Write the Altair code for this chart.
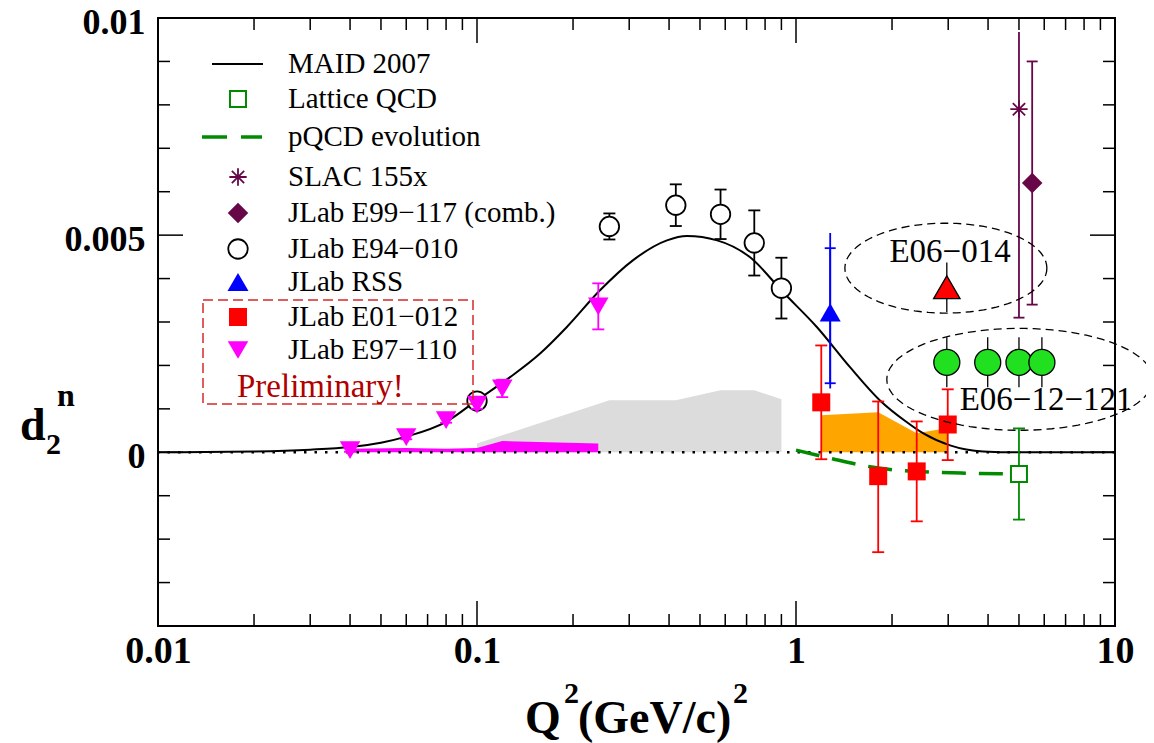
import math
import altair as alt
import pandas as pd

FONT = "Liberation Serif"
W, H = 957, 608

MAROON = "#670748"
GREEN4 = "#008b00"
ORANGE = "#ffa500"
GREY = "#dcdcdc"
MAGENTA = "#ff00ff"
RED = "#ff0000"
BLUE = "#0000ff"
LGREEN = "#20e020"
BOXRED = "#d42a2a"
PRELRED = "#b00000"

# ---------------- data ----------------
maid_x = [0.01, 0.02, 0.03, 0.04, 0.05, 0.06, 0.08, 0.10, 0.127, 0.158, 0.191, 0.243,
          0.308, 0.394, 0.455, 0.566, 0.718, 0.91, 1.164, 1.477, 1.83, 2.2, 2.5, 3.04,
          3.86, 5.0, 10.0]
maid_y = [0.0, 0.00002, 0.00006, 0.00012, 0.00022, 0.00036, 0.0007, 0.0012, 0.00173,
          0.00228, 0.00288, 0.00373, 0.00442, 0.00488, 0.00498, 0.00488, 0.00449,
          0.00369, 0.00288, 0.00196, 0.0012, 0.00072, 0.00044, 0.00016, 0.00002, 0.0, 0.0]

pqcd_x = [1.0, 1.3, 1.67, 2.0, 2.4, 3.4, 4.85]
pqcd_y = [0.00005, -0.00015, -0.00032, -0.0004, -0.00044, -0.00048, -0.0005]

e97_x = [0.04, 0.06, 0.08, 0.10, 0.12, 0.24]
e97_y = [0.00005, 0.00035, 0.00074, 0.0011, 0.00147, 0.00336]
e97_err = [0.00004, 0.00005, 0.00006, 0.0001, 0.0002, 0.00053]
e97_sys = [0.00008, 0.0001, 0.00008, 0.0001, 0.00026, 0.0002]

e94_x = [0.10, 0.26, 0.42, 0.58, 0.74, 0.90]
e94_y = [0.00118, 0.0052, 0.00569, 0.00548, 0.00482, 0.00378]
e94_err = [0.00005, 0.0003, 0.00048, 0.00057, 0.00075, 0.0007]
e94_sys = [0.0002, 0.0012, 0.0012, 0.00143, 0.00143, 0.00122]

rss_x = [1.28]
rss_y = [0.00322]
rss_stat_lo = [0.00159]
rss_stat_hi = [0.0047]
rss_tot_lo = [0.00147]
rss_tot_hi = [0.00505]

e01_x = [1.2, 1.81, 2.39, 2.99]
e01_y = [0.00115, -0.00055, -0.00044, 0.00064]
e01_lo = [-0.00016, -0.0023, -0.00159, -0.00018]
e01_hi = [0.00246, 0.00117, 0.00071, 0.00145]
e01_sys = [0.00085, 0.00092, 0.00044, 0.00056]

lat_x = [5.0]
lat_y = [-0.0005]
lat_lo = [-0.00155]
lat_hi = [0.00055]

slac_x = [5.0]
slac_y = [0.0079]
slac_lo = [0.0031]
slac_hi = [0.00968]

e99_x = [5.5]
e99_y = [0.0062]
e99_lo = [0.0034]
e99_hi = [0.0090]

e06014_x = [2.97]
e06014_y = [0.0038]
e06014_lo = [0.00323]
e06014_hi = [0.00437]

e0612_x = [2.97, 3.99, 5.0, 5.9]
e0612_y = [0.00207, 0.00207, 0.00207, 0.00207]
e0612_lo = [0.0015, 0.0015, 0.0015, 0.0015]
e0612_hi = [0.00265, 0.00265, 0.00265, 0.00265]

ell_x = [2.95, 5.03]
ell_y = [0.00424, 0.00168]

ann_text = ["E06\u2212014", "E06\u221212\u2212121"]
ann_x = [3.04, 6.08]
ann_y = [0.00438, 0.00097]

x_major = [0.1, 1.0]
x_minor = [0.02, 0.03, 0.04, 0.05, 0.06, 0.07, 0.08, 0.09,
           0.2, 0.3, 0.4, 0.5, 0.6, 0.7, 0.8, 0.9,
           2, 3, 4, 5, 6, 7, 8, 9]
y_major = [0.0, 0.005]
y_minor = [-0.003, -0.002, -0.001, 0.001, 0.002, 0.003, 0.004,
           0.006, 0.007, 0.008, 0.009]
x_labels = [0.01, 0.1, 1, 10]
y_labels = [0, 0.005, 0.01]

# ---------------- scales / axes ----------------
XS = alt.Scale(type="log", domain=[0.01, 10], nice=False)
YS = alt.Scale(type="linear", domain=[-0.004, 0.01], nice=False, zero=False)
XA = alt.Axis(values=x_labels, format="~g", ticks=False, domain=False, grid=False,
              title=None, labelFont=FONT, labelFontWeight="bold", labelFontSize=38,
              labelColor="black", labelPadding=6, labelFlush=False, labelOverlap=False)
YA = alt.Axis(values=y_labels, format="~g", ticks=False, domain=False, grid=False,
              title=None, labelFont=FONT, labelFontWeight="bold", labelFontSize=36,
              labelColor="black", labelPadding=13, labelOverlap=False, labelOffset=4,
              labelFlush=False)


def X(f):
    return alt.X(f, type="quantitative", scale=XS, axis=XA)


def Y(f):
    return alt.Y(f, type="quantitative", scale=YS, axis=YA)


def df(**cols):
    return pd.DataFrame(cols)


layers = []

# bands
layers.append(alt.Chart(df(x=e94_x, t=e94_sys)).mark_area(color=GREY, opacity=1)
              .encode(x=X("x"), y=Y("t"), y2=alt.datum(0)))
layers.append(alt.Chart(df(x=e97_x, t=e97_sys)).mark_area(color=MAGENTA, opacity=1)
              .encode(x=X("x"), y=Y("t"), y2=alt.datum(0)))
layers.append(alt.Chart(df(x=e01_x, t=e01_sys)).mark_area(color=ORANGE, opacity=1)
              .encode(x=X("x"), y=Y("t"), y2=alt.datum(0)))

# zero dotted line
layers.append(alt.Chart(df(z=[0.0])).mark_rule(color="black", strokeWidth=2.5, strokeDash=[2.5, 8])
              .encode(y=Y("z")))

# MAID curve
layers.append(alt.Chart(df(x=maid_x, y=maid_y)).mark_line(color="black", strokeWidth=2, interpolate="monotone")
              .encode(x=X("x"), y=Y("y")))
# pQCD
layers.append(alt.Chart(df(x=pqcd_x, y=pqcd_y)).mark_line(color=GREEN4, strokeWidth=3.5, strokeDash=[24, 13], interpolate="monotone")
              .encode(x=X("x"), y=Y("y")))


def errbars(xs, lo, hi, color, cap=12, width=1.8, caps=True):
    d = df(x=xs, lo=lo, hi=hi)
    out = [alt.Chart(d).mark_rule(color=color, strokeWidth=width).encode(x=X("x"), y=Y("lo"), y2="hi")]
    if caps:
        out.append(alt.Chart(d).mark_tick(orient="horizontal", size=cap, thickness=width, color=color, opacity=1)
                   .encode(x=X("x"), y=Y("lo")))
        out.append(alt.Chart(d).mark_tick(orient="horizontal", size=cap, thickness=width, color=color, opacity=1)
                   .encode(x=X("x"), y=Y("hi")))
    return out


# E94-010
layers += errbars(e94_x, [a - b for a, b in zip(e94_y, e94_err)], [a + b for a, b in zip(e94_y, e94_err)], "black")
layers.append(alt.Chart(df(x=e94_x, y=e94_y)).mark_circle(size=380, fill="white", stroke="black", strokeWidth=1.8, opacity=1)
              .encode(x=X("x"), y=Y("y")))
# E97-110
layers += errbars(e97_x, [a - b for a, b in zip(e97_y, e97_err)], [a + b for a, b in zip(e97_y, e97_err)], MAGENTA)
layers.append(alt.Chart(df(x=e97_x, y=e97_y)).mark_point(shape="triangle-down", size=420, filled=True, color=MAGENTA, opacity=1)
              .encode(x=X("x"), y=Y("y")))
# RSS
layers += errbars(rss_x, rss_tot_lo, rss_tot_hi, BLUE, caps=False)
layers += errbars(rss_x, rss_stat_lo, rss_stat_hi, BLUE, cap=11)
layers.append(alt.Chart(df(x=rss_x, y=rss_y)).mark_point(shape="triangle-up", size=441, filled=True, color=BLUE, opacity=1)
              .encode(x=X("x"), y=Y("y")))
# E01-012
layers += errbars(e01_x, e01_lo, e01_hi, RED)
layers.append(alt.Chart(df(x=e01_x, y=e01_y)).mark_square(size=324, color=RED, opacity=1)
              .encode(x=X("x"), y=Y("y")))
# Lattice
layers += errbars(lat_x, lat_lo, lat_hi, GREEN4)
layers.append(alt.Chart(df(x=lat_x, y=lat_y)).mark_square(size=256, fill="white", stroke=GREEN4, strokeWidth=2, opacity=1)
              .encode(x=X("x"), y=Y("y")))
# SLAC 155x
layers += errbars(slac_x, slac_hi, slac_lo, MAROON, caps=False)
layers.append(alt.Chart(df(x=slac_x, lo=slac_lo)).mark_tick(orient="horizontal", size=11, thickness=1.8, color=MAROON, opacity=1)
              .encode(x=X("x"), y=Y("lo")))
ASTER = "M-1,0L1,0M0,-1L0,1M-0.71,-0.71L0.71,0.71M-0.71,0.71L0.71,-0.71"
layers.append(alt.Chart(df(x=slac_x, y=slac_y)).mark_point(shape=ASTER, size=300, filled=False, stroke=MAROON, strokeWidth=1.8, opacity=1)
              .encode(x=X("x"), y=Y("y")))
# E99-117
layers += errbars(e99_x, e99_lo, e99_hi, MAROON, cap=11)
layers.append(alt.Chart(df(x=e99_x, y=e99_y)).mark_point(shape="diamond", size=420, filled=True, color=MAROON, opacity=1)
              .encode(x=X("x"), y=Y("y")))
# E06-014 projection
layers += errbars(e06014_x, e06014_lo, e06014_hi, "black", width=1.3, caps=False)
layers.append(alt.Chart(df(x=e06014_x, y=e06014_y)).mark_point(shape="triangle-up", size=700, filled=True, fill=RED, stroke="black", strokeWidth=1.3, opacity=1)
              .encode(x=X("x"), y=Y("y")))
# E06-12-121 projection
layers += errbars(e0612_x, e0612_lo, e0612_hi, "black", width=1.3, caps=False)
layers.append(alt.Chart(df(x=e0612_x, y=e0612_y)).mark_circle(size=676, fill=LGREEN, stroke="black", strokeWidth=1.3, opacity=1)
              .encode(x=X("x"), y=Y("y")))


def ellipse_path(ry, n=90):
    pts = []
    for i in range(n):
        t = 2 * math.pi * i / n
        pts.append(f"{math.cos(t):.4f},{ry * math.sin(t):.4f}")
    return "M" + "L".join(pts) + "Z"


layers.append(alt.Chart(df(x=ell_x[:1], y=ell_y[:1])).mark_point(shape=ellipse_path(0.445), size=202 ** 2, filled=False,
                                                                  stroke="black", strokeWidth=1.3, strokeDash=[8, 5], opacity=1)
              .encode(x=X("x"), y=Y("y")))
layers.append(alt.Chart(df(x=ell_x[1:], y=ell_y[1:])).mark_point(shape=ellipse_path(0.383), size=266 ** 2, filled=False,
                                                                  stroke="black", strokeWidth=1.3, strokeDash=[8, 5], opacity=1)
              .encode(x=X("x"), y=Y("y")))

layers.append(alt.Chart(df(x=ann_x, y=ann_y, t=ann_text)).mark_text(font=FONT, fontSize=33, color="black", align="center", baseline="alphabetic")
              .encode(x=X("x"), y=Y("y"), text="t:N"))

# ticks (inward, on all four sides)
for vals, L in ((x_major, 25), (x_minor, 12)):
    d = df(v=vals)
    layers.append(alt.Chart(d).mark_rule(color="black", strokeWidth=1.5).encode(x=X("v"), y=alt.value(H), y2=alt.value(H - L)))
    layers.append(alt.Chart(d).mark_rule(color="black", strokeWidth=1.5).encode(x=X("v"), y=alt.value(0), y2=alt.value(L)))
for vals, L in ((y_major, 25), (y_minor, 12)):
    d = df(v=vals)
    layers.append(alt.Chart(d).mark_rule(color="black", strokeWidth=1.5).encode(y=Y("v"), x=alt.value(0), x2=alt.value(L)))
    layers.append(alt.Chart(d).mark_rule(color="black", strokeWidth=1.5).encode(y=Y("v"), x=alt.value(W), x2=alt.value(W - L)))

# ---------------- custom legend ----------------
one = pd.DataFrame({"k": [0]})
SX, TX = 80, 130
rows = [46, 81, 119, 159, 195, 231, 264, 299, 332]
labels = ["MAID 2007", "Lattice QCD", "pQCD evolution", "SLAC 155x", "JLab E99\u2212117 (comb.)",
          "JLab E94\u2212010", "JLab RSS", "JLab E01\u2212012", "JLab E97\u2212110"]
for lab, ry in zip(labels, rows):
    layers.append(alt.Chart(one).mark_text(text=lab, align="left", baseline="middle", font=FONT, fontSize=29, color="black")
                  .encode(x=alt.value(TX), y=alt.value(ry)))

layers.append(alt.Chart(one).mark_rule(color="black", strokeWidth=2).encode(x=alt.value(54), x2=alt.value(105), y=alt.value(rows[0])))
layers.append(alt.Chart(one).mark_square(size=256, fill="white", stroke=GREEN4, strokeWidth=2, opacity=1).encode(x=alt.value(SX), y=alt.value(rows[1])))
layers.append(alt.Chart(one).mark_rule(color=GREEN4, strokeWidth=3.5, strokeDash=[25, 14]).encode(x=alt.value(44), x2=alt.value(104), y=alt.value(rows[2])))
layers.append(alt.Chart(one).mark_point(shape=ASTER, size=300, filled=False, stroke=MAROON, strokeWidth=1.8, opacity=1).encode(x=alt.value(SX), y=alt.value(rows[3])))
layers.append(alt.Chart(one).mark_point(shape="diamond", size=420, filled=True, color=MAROON, opacity=1).encode(x=alt.value(SX), y=alt.value(rows[4])))
layers.append(alt.Chart(one).mark_circle(size=380, fill="white", stroke="black", strokeWidth=1.8, opacity=1).encode(x=alt.value(SX), y=alt.value(rows[5])))
layers.append(alt.Chart(one).mark_point(shape="triangle-up", size=441, filled=True, color=BLUE, opacity=1).encode(x=alt.value(SX), y=alt.value(rows[6])))
layers.append(alt.Chart(one).mark_square(size=324, color=RED, opacity=1).encode(x=alt.value(SX), y=alt.value(rows[7])))
layers.append(alt.Chart(one).mark_point(shape="triangle-down", size=420, filled=True, color=MAGENTA, opacity=1).encode(x=alt.value(SX), y=alt.value(rows[8])))

layers.append(alt.Chart(one).mark_rect(fill="transparent", stroke=BOXRED, strokeWidth=1.5, strokeDash=[10, 5])
              .encode(x=alt.value(45), x2=alt.value(315), y=alt.value(282), y2=alt.value(386)))
layers.append(alt.Chart(one).mark_text(text="Preliminary!", align="left", baseline="middle", font=FONT, fontSize=33, color=PRELRED)
              .encode(x=alt.value(79), y=alt.value(369)))

# ---------------- axis titles (with sub/superscripts) ----------------
def txt(s, x, y, size, weight="bold"):
    return alt.Chart(one).mark_text(text=s, align="left", baseline="alphabetic", font=FONT, fontSize=size,
                                    fontWeight=weight, color="black").encode(x=alt.value(x), y=alt.value(y))


layers.append(txt("Q", 367, 715, 46))
layers.append(txt("2", 406, 685, 30))
layers.append(txt("(GeV/c)", 420, 715, 46))
layers.append(txt("2", 575, 685, 30))

layers.append(txt("d", -138, 422, 46))
layers.append(txt("2", -112, 436, 30))
layers.append(txt("n", -101, 388, 32))

chart = alt.layer(*layers).properties(
    width=W, height=H,
    padding={"left": 150, "top": 10, "right": 31, "bottom": 117},
    autosize=alt.AutoSizeParams(type="none"),
    background="white",
).configure_view(stroke="black", strokeWidth=2)

chart.save("out.html", embed_options={"renderer": "svg", "actions": False})
